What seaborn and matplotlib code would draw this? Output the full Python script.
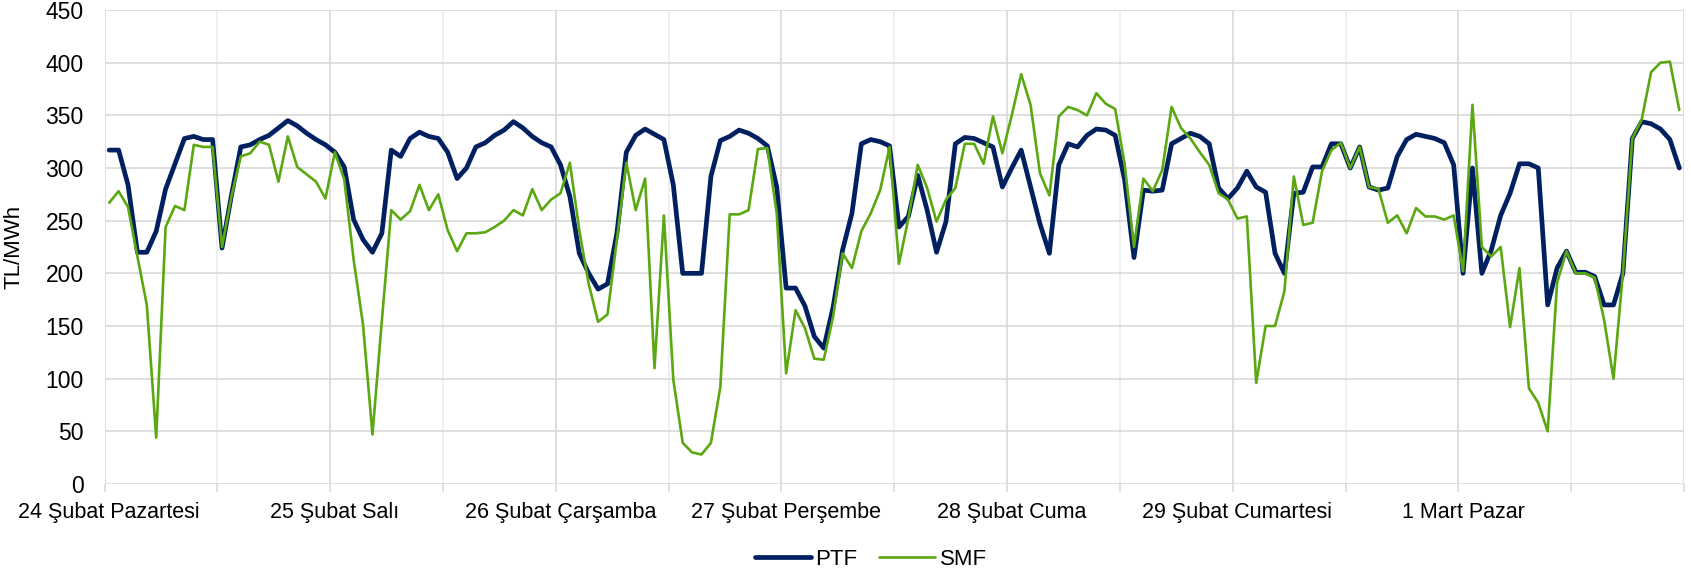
import numpy as np
import pandas as pd
import seaborn as sns
import matplotlib.pyplot as plt
from matplotlib.lines import Line2D

# saatlik PTF ve SMF degerleri (TL/MWh), 24 Subat - 1 Mart, 168 saat
ptf = [317, 317, 284, 220, 220, 240, 280, 304, 328, 330, 327, 327,
       224, 274, 320, 322, 327, 331, 338, 345, 340, 333, 327, 322,
       315, 301, 251, 232, 220, 238, 317, 311, 328, 334, 330, 328,
       315, 290, 300, 320, 324, 331, 336, 344, 338, 330, 324, 320,
       303, 273, 219, 200, 185, 190, 238, 315, 331, 337, 332, 327,
       284, 200, 200, 200, 292, 326, 330, 336, 333, 328, 321, 282,
       186, 186, 169, 140, 129, 168, 222, 257, 323, 327, 325, 321,
       244, 254, 293, 260, 220, 249, 323, 329, 328, 324, 320, 282,
       300, 317, 282, 247, 219, 303, 323, 320, 331, 337, 336, 331,
       289, 215, 279, 278, 279, 323, 328, 333, 330, 323, 281, 271,
       281, 297, 282, 277, 219, 200, 276, 277, 301, 301, 323, 323,
       300, 320, 282, 279, 281, 311, 327, 332, 330, 328, 324, 303,
       200, 300, 200, 222, 255, 276, 304, 304, 300, 170, 205, 221,
       201, 201, 197, 170, 170, 200, 328, 344, 342, 337, 327, 300]

smf = [267, 278, 263, 216, 170, 44, 244, 264, 260, 322, 320, 320,
       225, 273, 311, 314, 325, 322, 287, 330, 301, 294, 287, 271,
       315, 289, 213, 151, 47, 155, 260, 251, 259, 284, 260, 275,
       241, 221, 238, 238, 239, 244, 250, 260, 255, 280, 260, 270,
       276, 305, 241, 190, 154, 161, 232, 305, 260, 290, 110, 255,
       99, 39, 30, 28, 39, 92, 256, 256, 260, 318, 319, 257,
       105, 165, 148, 119, 118, 159, 219, 205, 240, 257, 279, 320,
       209, 252, 303, 281, 249, 270, 281, 323, 323, 304, 349, 314,
       350, 389, 360, 295, 274, 349, 358, 355, 350, 371, 361, 356,
       304, 225, 290, 278, 298, 358, 338, 328, 315, 303, 276, 270,
       252, 254, 96, 150, 150, 183, 292, 246, 248, 297, 317, 324,
       300, 320, 282, 280, 248, 255, 238, 262, 254, 254, 251, 255,
       202, 360, 225, 216, 225, 149, 205, 91, 77, 50, 191, 221,
       200, 200, 196, 156, 100, 200, 328, 346, 391, 400, 401, 355]

gun_etiketleri = ["24 Şubat Pazartesi", "25 Şubat Salı", "26 Şubat Çarşamba",
                  "27 Şubat Perşembe", "28 Şubat Cuma", "29 Şubat Cumartesi",
                  "1 Mart Pazar"]

saat = np.arange(len(ptf)) + 0.5
df = pd.DataFrame({
    "saat": np.concatenate([saat, saat]),
    "fiyat": ptf + smf,
    "seri": ["PTF"] * len(ptf) + ["SMF"] * len(smf),
})

sns.set_theme(style="white")
plt.rcParams["font.family"] = ["Liberation Sans", "DejaVu Sans"]

fig = plt.figure(figsize=(16.91, 5.77), dpi=100)
ax = fig.add_axes([104.5 / 1691, 1 - 484 / 577, (1684 - 104.5) / 1691, (484 - 10) / 577])

sns.lineplot(data=df, x="saat", y="fiyat", hue="seri",
             palette={"PTF": "#002060", "SMF": "#5BA813"},
             size="seri", sizes={"PTF": 3.4, "SMF": 1.9},
             ax=ax, legend=False)

ax.set_xlim(0, 168)
ax.set_ylim(0, 450)
ax.set_yticks(np.arange(0, 451, 50))
ax.set_xticks(np.arange(0, 169, 12))
ax.set_xticklabels([])
ax.set_xticks(np.arange(0, 168, 24) + 0.5, minor=True)
ax.set_xticklabels(gun_etiketleri, minor=True)

ax.grid(True, which="major", color="#d9d9d9", linewidth=1.2)
for i, gl in enumerate(ax.get_xgridlines()):
    if i % 2 == 1:
        gl.set_color("#ececec")
for s in ax.spines.values():
    s.set_visible(False)

ax.tick_params(axis="x", which="major", bottom=True, length=6, width=1.2,
               color="#d9d9d9", direction="out")
ax.tick_params(axis="x", which="minor", length=0, pad=13, labelsize=15.5)
ax.tick_params(axis="y", length=0, pad=15, labelsize=16.5)
for lbl in ax.get_xticklabels(minor=True) + ax.get_yticklabels():
    lbl.set_color("black")

ax.set_xlabel("")
ax.set_ylabel("TL/MWh", fontsize=16, color="black", labelpad=15)

handles = [Line2D([], [], color="#002060", lw=3.4, solid_capstyle="round"),
           Line2D([], [], color="#5BA813", lw=1.9, solid_capstyle="round")]
leg = fig.legend(handles, ["PTF", "SMF"], loc="center", bbox_to_anchor=(0.515, 0.031),
                 ncol=2, frameon=False, fontsize=16, handlelength=2.5,
                 handletextpad=0.2, columnspacing=1.0)
for t in leg.get_texts():
    t.set_color("black")

fig.savefig("out.png", dpi=100)
